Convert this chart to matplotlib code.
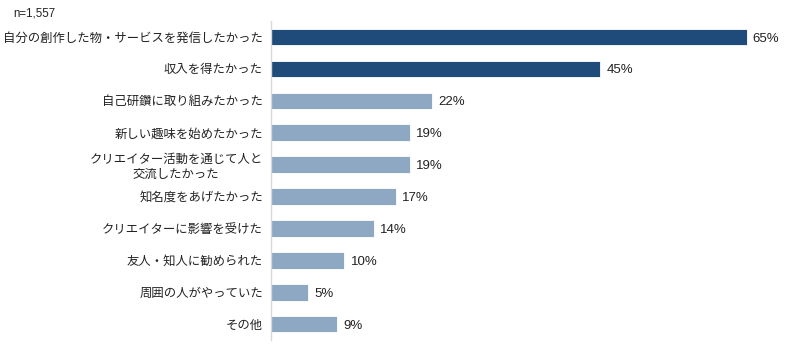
import matplotlib
matplotlib.use("Agg")
import matplotlib.pyplot as plt

plt.rcParams['font.family'] = ['Liberation Sans', 'Noto Sans CJK JP', 'DejaVu Sans']

# --- data ---
categories = [
    '自分の創作した物・サービスを発信したかった',
    '収入を得たかった',
    '自己研鑽に取り組みたかった',
    '新しい趣味を始めたかった',
    'クリエイター活動を通じて人と\n交流したかった',
    '知名度をあげたかった',
    'クリエイターに影響を受けた',
    '友人・知人に勧められた',
    '周囲の人がやっていた',
    'その他',
]
percent = [65, 45, 22, 19, 19, 17, 14, 10, 5, 9]
highlight = [True, True, False, False, False, False, False, False, False, False]
sample_note = 'n=1,557'

dark = '#1f4b7a'
light = '#8ea7c2'
text_col = '#222222'

fig = plt.figure(figsize=(8, 3.51), dpi=100)
ax = fig.add_axes([0.339, 0.031, 0.640, 0.909])

ypos = list(range(len(categories)))
colors = [dark if h else light for h in highlight]
ax.barh(ypos, percent, height=0.52, color=colors, edgecolor='white', linewidth=0.6)

for y, v in zip(ypos, percent):
    ax.text(v + 0.85, y, f'{v}%', va='center_baseline', ha='left', fontsize=9.5, color=text_col)

ax.set_xlim(0, 70)
ax.set_ylim(9.5, -0.5)
ax.set_yticks(ypos)
ax.set_yticklabels(categories, fontsize=8.9, color=text_col, linespacing=1.3)
ax.tick_params(axis='y', length=0, pad=6)
ax.set_xticks([])
for side in ['top', 'right', 'bottom']:
    ax.spines[side].set_visible(False)
ax.spines['left'].set_color('#d9d9d9')
ax.spines['left'].set_linewidth(1.0)

for lbl in ax.get_yticklabels():
    lbl.set_multialignment('center')

fig.text(0.016, 0.962, sample_note, fontsize=8.3, color=text_col, va='center', ha='left')

fig.savefig('out.png', dpi=100)
